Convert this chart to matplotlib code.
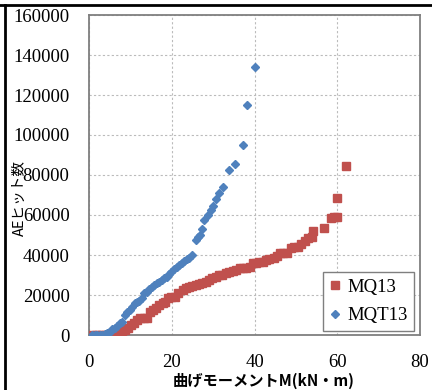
import matplotlib.pyplot as plt
from matplotlib.lines import Line2D

# MQ13 (red squares)
mq13_m = [0.8, 1.6, 2.4, 3.2, 4.0, 4.8, 5.6, 6.4, 7.2, 8.0, 8.8, 9.4, 10.2, 10.8,
          11.6, 12.4, 13.2, 14.0, 14.8, 15.4, 16.2, 17.0, 17.8, 18.4, 19.2, 19.9,
          20.8, 21.6, 22.6, 23.4, 24.2, 25.0, 25.8, 26.6, 27.4, 28.2, 29.0, 29.8,
          30.6, 31.4, 32.2, 33.0, 33.8, 34.8, 35.6, 36.4, 37.2, 38.0, 38.8, 39.6,
          40.4, 41.2, 42.0, 42.8, 43.6, 44.6, 45.4, 46.2, 47.0, 47.8, 48.8, 49.6,
          50.4, 51.2, 52.2, 53.0, 53.8, 54.2, 56.8, 58.4, 59.2, 60.0, 60.0, 62.0]
mq13_ae = [0, 0, 0, 0, 0, 200, 500, 800, 1000, 1500, 2500, 3300, 5000, 5800,
           7500, 8300, 8300, 8500, 11700, 12500, 13300, 15000, 15800, 16700, 18300, 18800,
           19200, 20800, 22500, 23300, 24200, 24600, 25000, 25500, 25800, 26700, 27500, 28300,
           28800, 30000, 30000, 30800, 31700, 31900, 32500, 33300, 33300, 33500, 34200, 35800,
           36000, 36700, 36700, 37500, 38000, 38700, 39500, 40800, 41000, 41200, 43300, 44200,
           44200, 45500, 47000, 48300, 49200, 52000, 53700, 58700, 59200, 59200, 68700, 84500]

# MQT13 (blue diamonds)
mqt13_m = [0.8, 1.4, 2.0, 2.6, 3.2, 3.8, 4.4, 5.0, 5.6, 6.2, 6.8, 7.4, 8.0, 8.6,
           9.2, 9.8, 10.4, 11.0, 11.6, 12.2, 12.8, 13.4, 14.0, 14.6, 15.2, 15.8,
           16.4, 17.0, 17.6, 18.2, 18.8, 19.4, 19.9, 20.6, 21.2, 21.8, 22.4, 23.0,
           23.6, 24.2, 24.8, 25.9, 26.3, 26.8, 27.4, 27.9, 28.7, 29.4, 30.0, 30.7,
           31.5, 32.3, 33.9, 35.4, 37.3, 38.3, 40.0]
mqt13_ae = [0, 0, 0, 0, 0, 300, 1000, 1700, 2800, 3300, 4500, 5800, 6600, 10000,
            11700, 12700, 14000, 15800, 16500, 17000, 18500, 20800, 21700, 23000, 24000, 25000,
            26000, 26700, 27500, 28500, 29200, 30300, 31700, 33000, 34200, 35000, 36000, 37000,
            37800, 38500, 40000, 47500, 49000, 50000, 53000, 57500, 60000, 62500, 64500, 68200,
            71200, 74200, 82300, 85500, 95000, 115000, 134200]

xticks = [0, 20, 40, 60, 80]
yticks = [0, 20000, 40000, 60000, 80000, 100000, 120000, 140000, 160000]

serif = 'Liberation Serif'
jp = ['Noto Sans CJK JP', 'DejaVu Sans']

fig = plt.figure(figsize=(4.32, 3.9), dpi=100)
ax = fig.add_axes([89 / 432, 1 - 335 / 390, 331 / 432, 320 / 390])

ax.plot(mq13_m, mq13_ae, 's', color='#C0504D', markersize=5.4, label='MQ13', zorder=3)
ax.plot(mqt13_m, mqt13_ae, 'D', color='#4F81BD', markersize=3.8, label='MQT13', zorder=4)

ax.set_xlim(0, 80)
ax.set_ylim(0, 160000)
ax.set_xticks(xticks)
ax.set_yticks(yticks)
ax.set_xticklabels([str(t) for t in xticks], fontfamily=serif, fontsize=13.5)
ax.set_yticklabels([str(t) for t in yticks], fontfamily=serif, fontsize=13.5)
ax.tick_params(axis='x', length=0, pad=14)
ax.tick_params(axis='y', length=0, pad=14)
ax.grid(True, color='#BBBBBB', linestyle=(0, (2, 2)), linewidth=0.8)
ax.set_axisbelow(True)
for s in ax.spines.values():
    s.set_color('#7F7F7F')
    s.set_linewidth(1.3)

leg = ax.legend(loc='lower right', bbox_to_anchor=(1.0, -0.005), prop={'family': serif, 'size': 13.5},
                fancybox=False, edgecolor='#7F7F7F', framealpha=1, labelspacing=0.6,
                handlelength=0.6, handletextpad=0.35, borderpad=0.35, borderaxespad=0.3,
                markerscale=1.0)
leg.get_frame().set_linewidth(1.0)

fig.text(264 / 432, 1 - 381 / 390, '曲げモーメントM(kN・m)', family=jp, fontsize=11,
         fontweight='bold', ha='center', va='center')
fig.text(20 / 432, 1 - 198 / 390, 'AEヒット数', family=jp, fontsize=10.5,
         rotation=90, ha='center', va='center')

# outer frame lines (top and left)
fig.add_artist(Line2D([0, 1], [1 - 5 / 390, 1 - 5 / 390], color='black', linewidth=2,
                      transform=fig.transFigure))
fig.add_artist(Line2D([5 / 432, 5 / 432], [0, 1 - 5 / 390], color='black', linewidth=2,
                      transform=fig.transFigure))

fig.savefig('out.png', dpi=100)
